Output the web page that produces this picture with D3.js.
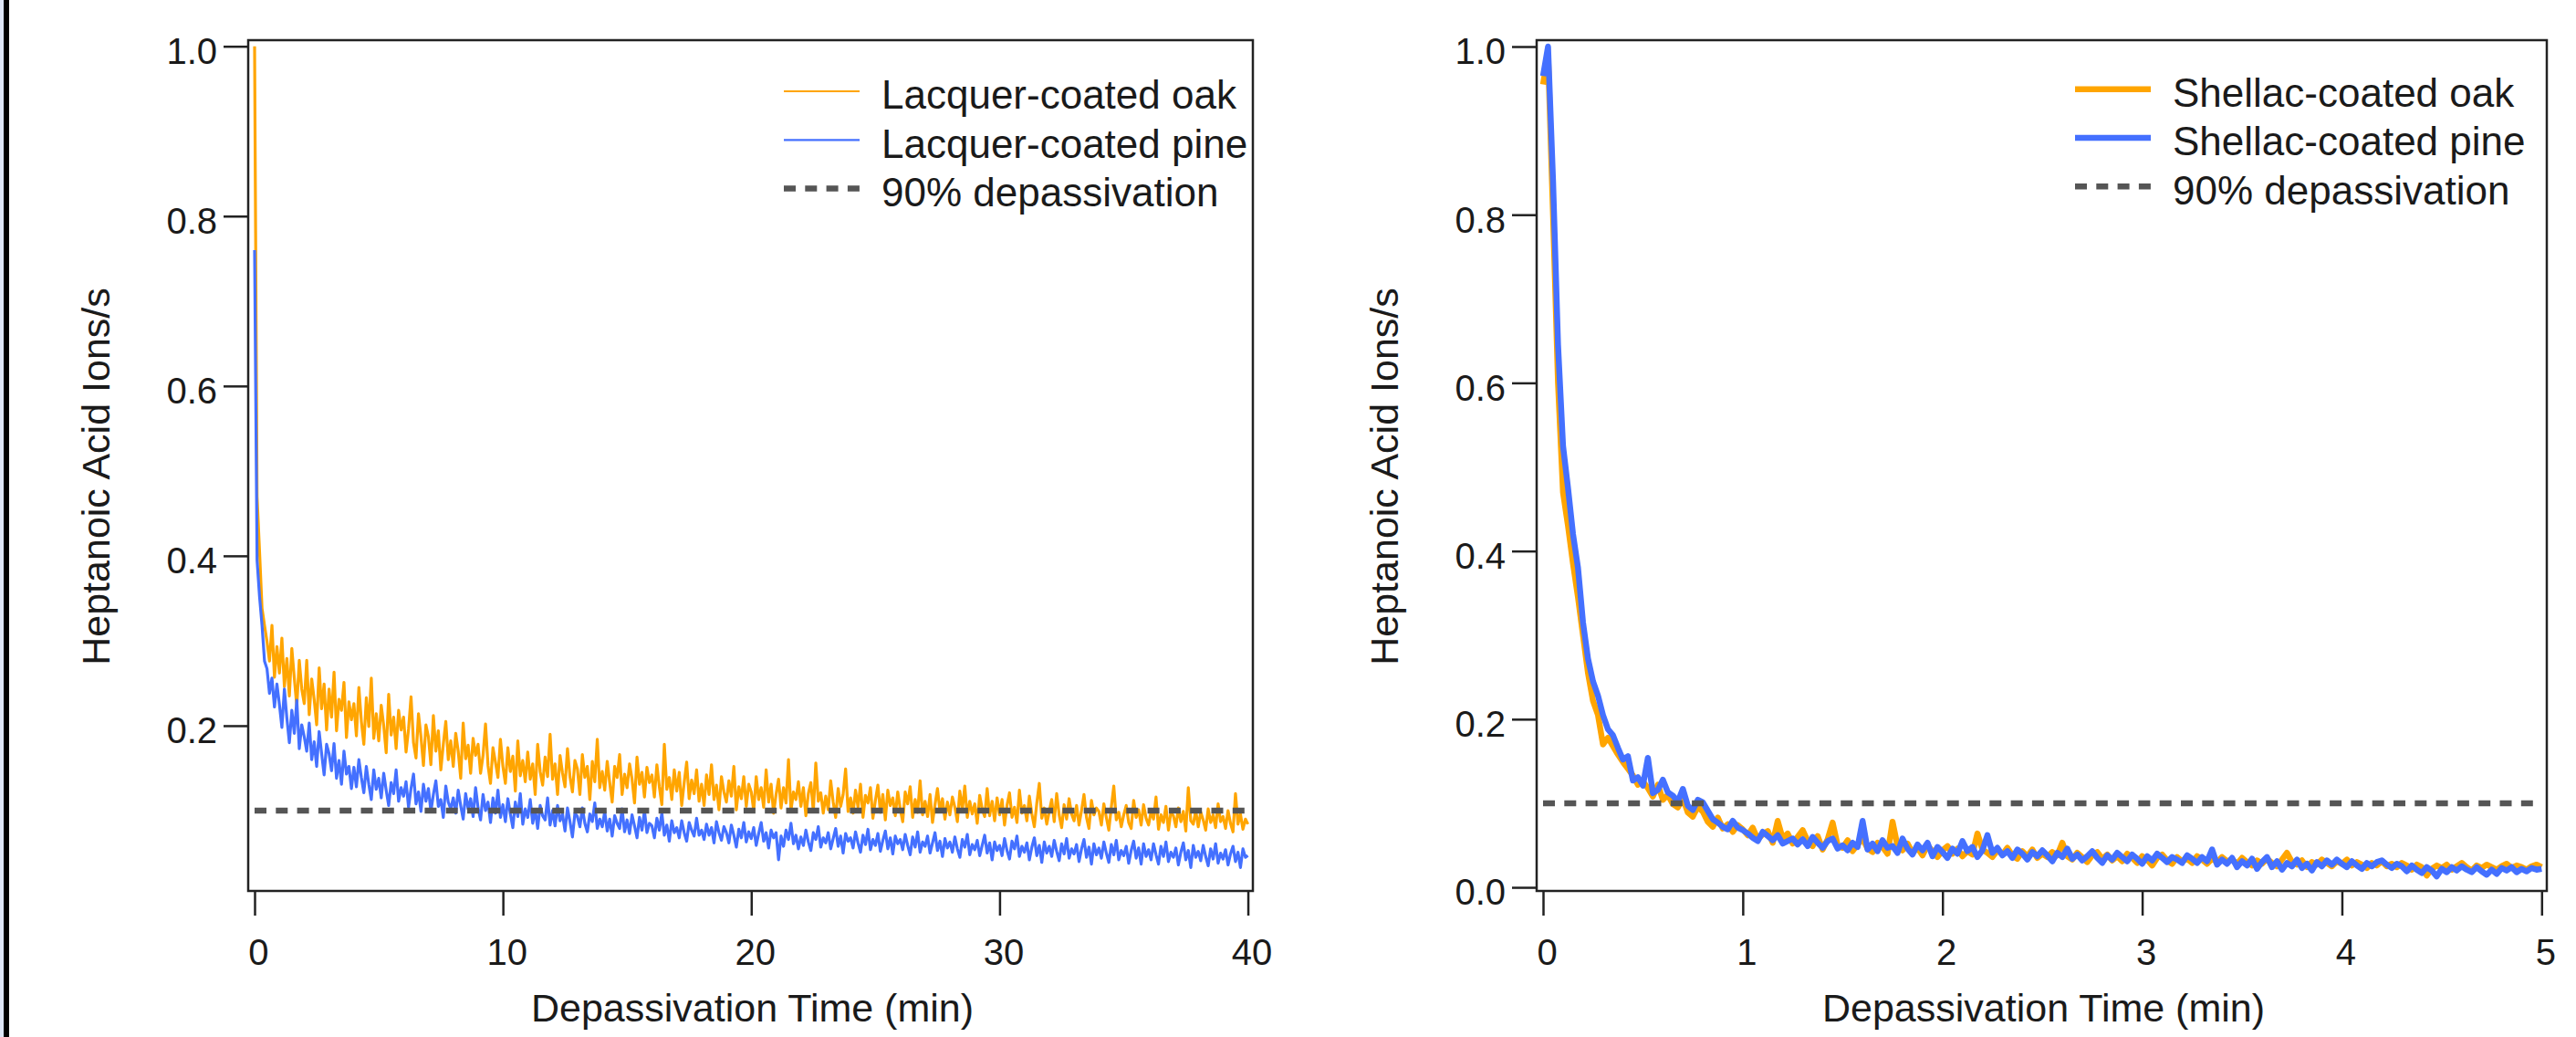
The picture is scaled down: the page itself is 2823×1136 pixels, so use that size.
<!DOCTYPE html>
<html lang="en">
<head>
<meta charset="UTF-8">
<title>Heptanoic acid depassivation</title>
<script src="https://cdn.jsdelivr.net/npm/d3@7"></script>
<style>
    html, body { margin: 0; padding: 0; background: #fff; }
    svg { display: block; }
    text { font-family: "Liberation Sans", Arial, sans-serif; }
</style>
</head>
<body>
<div id="chart"></div>
<script>
// lacquer run: one reading every 0.1 min, 0 to 40 min
var lacquerStep = 0.1;
var lacquerOak = [
    1.000, 0.470, 0.405, 0.338, 0.318, 0.299, 0.276, 0.318, 0.257, 0.293,
    0.262, 0.303, 0.246, 0.279, 0.235, 0.291, 0.256, 0.223, 0.277, 0.243,
    0.226, 0.277, 0.213, 0.255, 0.231, 0.201, 0.268, 0.220, 0.249, 0.195,
    0.243, 0.210, 0.263, 0.194, 0.231, 0.218, 0.251, 0.186, 0.228, 0.207,
    0.226, 0.188, 0.245, 0.205, 0.178, 0.233, 0.199, 0.256, 0.185, 0.214,
    0.182, 0.224, 0.200, 0.168, 0.237, 0.189, 0.210, 0.173, 0.218, 0.195,
    0.210, 0.169, 0.196, 0.234, 0.180, 0.162, 0.214, 0.187, 0.153, 0.201,
    0.187, 0.154, 0.212, 0.170, 0.194, 0.148, 0.178, 0.205, 0.160, 0.182,
    0.152, 0.191, 0.170, 0.138, 0.203, 0.161, 0.177, 0.144, 0.185, 0.165,
    0.178, 0.144, 0.165, 0.202, 0.153, 0.132, 0.174, 0.157, 0.139, 0.184,
    0.152, 0.132, 0.174, 0.146, 0.164, 0.123, 0.182, 0.141, 0.159, 0.134,
    0.169, 0.137, 0.155, 0.119, 0.178, 0.146, 0.130, 0.163, 0.140, 0.190,
    0.137, 0.155, 0.119, 0.165, 0.144, 0.128, 0.173, 0.140, 0.122, 0.159,
    0.149, 0.119, 0.166, 0.139, 0.152, 0.113, 0.158, 0.134, 0.184, 0.127,
    0.146, 0.124, 0.158, 0.133, 0.110, 0.152, 0.139, 0.166, 0.119, 0.143,
    0.127, 0.155, 0.137, 0.109, 0.163, 0.131, 0.145, 0.116, 0.151, 0.133,
    0.142, 0.116, 0.154, 0.128, 0.107, 0.178, 0.125, 0.139, 0.113, 0.148,
    0.123, 0.145, 0.106, 0.133, 0.157, 0.114, 0.136, 0.120, 0.148, 0.111,
    0.131, 0.106, 0.142, 0.119, 0.154, 0.113, 0.130, 0.101, 0.140, 0.122,
    0.110, 0.135, 0.117, 0.152, 0.101, 0.128, 0.114, 0.140, 0.105, 0.131,
    0.122, 0.100, 0.140, 0.113, 0.127, 0.104, 0.148, 0.110, 0.131, 0.097,
    0.119, 0.137, 0.103, 0.127, 0.109, 0.160, 0.100, 0.122, 0.113, 0.134,
    0.105, 0.127, 0.094, 0.120, 0.133, 0.099, 0.156, 0.111, 0.121, 0.097,
    0.117, 0.101, 0.135, 0.110, 0.092, 0.126, 0.105, 0.119, 0.149, 0.099,
    0.115, 0.097, 0.124, 0.104, 0.131, 0.092, 0.118, 0.109, 0.127, 0.091,
    0.112, 0.130, 0.098, 0.119, 0.089, 0.124, 0.106, 0.115, 0.094, 0.122,
    0.102, 0.087, 0.122, 0.108, 0.128, 0.092, 0.113, 0.098, 0.135, 0.095,
    0.111, 0.093, 0.119, 0.086, 0.107, 0.126, 0.099, 0.114, 0.090, 0.110,
    0.095, 0.116, 0.104, 0.087, 0.123, 0.101, 0.129, 0.092, 0.111, 0.096,
    0.108, 0.085, 0.118, 0.102, 0.093, 0.126, 0.094, 0.111, 0.088, 0.115,
    0.095, 0.113, 0.083, 0.106, 0.121, 0.092, 0.104, 0.086, 0.124, 0.097,
    0.106, 0.088, 0.117, 0.096, 0.081, 0.109, 0.132, 0.091, 0.103, 0.084,
    0.099, 0.113, 0.087, 0.120, 0.095, 0.080, 0.107, 0.090, 0.114, 0.096,
    0.088, 0.106, 0.083, 0.100, 0.119, 0.092, 0.079, 0.112, 0.095, 0.103,
    0.099, 0.083, 0.108, 0.092, 0.077, 0.104, 0.129, 0.089, 0.098, 0.081,
    0.095, 0.106, 0.086, 0.079, 0.112, 0.092, 0.101, 0.083, 0.107, 0.091,
    0.083, 0.099, 0.090, 0.116, 0.078, 0.095, 0.086, 0.105, 0.077, 0.098,
    0.094, 0.081, 0.103, 0.087, 0.099, 0.076, 0.127, 0.088, 0.084, 0.100,
    0.081, 0.098, 0.089, 0.077, 0.102, 0.086, 0.095, 0.080, 0.108, 0.087,
    0.093, 0.079, 0.100, 0.085, 0.075, 0.120, 0.084, 0.096, 0.078, 0.090,
    0.084
];
var lacquerPine = [
    0.760, 0.395, 0.352, 0.318, 0.276, 0.267, 0.238, 0.256, 0.222, 0.249,
    0.225, 0.198, 0.243, 0.209, 0.180, 0.218, 0.191, 0.230, 0.173, 0.201,
    0.187, 0.170, 0.203, 0.160, 0.181, 0.152, 0.193, 0.167, 0.142, 0.178,
    0.167, 0.147, 0.179, 0.138, 0.159, 0.131, 0.170, 0.143, 0.152, 0.126,
    0.151, 0.128, 0.160, 0.139, 0.121, 0.152, 0.131, 0.113, 0.148, 0.125,
    0.138, 0.115, 0.144, 0.124, 0.106, 0.133, 0.120, 0.148, 0.111, 0.127,
    0.117, 0.134, 0.104, 0.126, 0.143, 0.108, 0.122, 0.099, 0.131, 0.111,
    0.126, 0.099, 0.119, 0.135, 0.105, 0.113, 0.092, 0.129, 0.110, 0.102,
    0.115, 0.097, 0.124, 0.106, 0.090, 0.120, 0.102, 0.114, 0.093, 0.127,
    0.103, 0.089, 0.119, 0.100, 0.110, 0.086, 0.115, 0.097, 0.124, 0.092,
    0.107, 0.087, 0.114, 0.096, 0.080, 0.110, 0.093, 0.120, 0.084, 0.102,
    0.092, 0.113, 0.085, 0.101, 0.079, 0.106, 0.094, 0.089, 0.115, 0.083,
    0.100, 0.082, 0.106, 0.088, 0.096, 0.076, 0.103, 0.087, 0.069, 0.097,
    0.093, 0.081, 0.103, 0.085, 0.075, 0.096, 0.087, 0.109, 0.079, 0.090,
    0.081, 0.099, 0.076, 0.090, 0.070, 0.094, 0.085, 0.079, 0.102, 0.075,
    0.089, 0.073, 0.095, 0.082, 0.068, 0.092, 0.077, 0.100, 0.074, 0.085,
    0.082, 0.068, 0.091, 0.077, 0.097, 0.071, 0.083, 0.064, 0.088, 0.074,
    0.080, 0.068, 0.088, 0.074, 0.064, 0.086, 0.077, 0.070, 0.091, 0.071,
    0.077, 0.066, 0.084, 0.071, 0.080, 0.062, 0.087, 0.074, 0.065, 0.081,
    0.074, 0.062, 0.083, 0.071, 0.057, 0.078, 0.068, 0.086, 0.063, 0.075,
    0.067, 0.080, 0.059, 0.073, 0.086, 0.064, 0.074, 0.056, 0.077, 0.068,
    0.074, 0.042, 0.070, 0.058, 0.077, 0.066, 0.085, 0.061, 0.071, 0.055,
    0.069, 0.059, 0.077, 0.063, 0.053, 0.074, 0.066, 0.081, 0.057, 0.068,
    0.062, 0.074, 0.055, 0.067, 0.079, 0.058, 0.070, 0.050, 0.073, 0.064,
    0.068, 0.056, 0.075, 0.062, 0.051, 0.071, 0.060, 0.078, 0.054, 0.066,
    0.059, 0.073, 0.052, 0.065, 0.076, 0.055, 0.068, 0.049, 0.070, 0.061,
    0.066, 0.054, 0.072, 0.059, 0.048, 0.069, 0.057, 0.075, 0.051, 0.063,
    0.058, 0.070, 0.050, 0.062, 0.074, 0.053, 0.064, 0.046, 0.067, 0.056,
    0.063, 0.051, 0.069, 0.055, 0.045, 0.066, 0.057, 0.072, 0.048, 0.060,
    0.054, 0.065, 0.047, 0.059, 0.071, 0.050, 0.062, 0.042, 0.063, 0.053,
    0.059, 0.047, 0.067, 0.053, 0.043, 0.064, 0.055, 0.070, 0.046, 0.058,
    0.051, 0.062, 0.042, 0.057, 0.068, 0.047, 0.059, 0.039, 0.063, 0.050,
    0.058, 0.046, 0.065, 0.052, 0.041, 0.061, 0.049, 0.067, 0.044, 0.055,
    0.049, 0.060, 0.040, 0.055, 0.066, 0.045, 0.057, 0.037, 0.061, 0.048,
    0.056, 0.044, 0.063, 0.050, 0.039, 0.060, 0.048, 0.065, 0.042, 0.053,
    0.047, 0.058, 0.038, 0.053, 0.064, 0.044, 0.056, 0.037, 0.061, 0.046,
    0.054, 0.042, 0.061, 0.048, 0.037, 0.058, 0.046, 0.063, 0.040, 0.051,
    0.045, 0.056, 0.036, 0.051, 0.062, 0.042, 0.053, 0.033, 0.059, 0.045,
    0.052, 0.041, 0.059, 0.046, 0.035, 0.055, 0.043, 0.061, 0.038, 0.050,
    0.043, 0.054, 0.036, 0.049, 0.058, 0.040, 0.051, 0.033, 0.055, 0.045,
    0.047
];

// shellac run: one reading every 0.025 min, 0 to 5 min
var shellacStep = 0.025;
var shellacOak = [
    0.955, 0.990, 0.800, 0.600, 0.470, 0.430, 0.385, 0.345, 0.300, 0.255,
    0.222, 0.205, 0.170, 0.178, 0.168, 0.158, 0.149, 0.141, 0.133, 0.122,
    0.126, 0.118, 0.108, 0.122, 0.104, 0.110, 0.099, 0.095, 0.106, 0.089,
    0.084, 0.096, 0.090, 0.078, 0.072, 0.083, 0.070, 0.075, 0.066, 0.074,
    0.069, 0.062, 0.071, 0.057, 0.063, 0.067, 0.053, 0.079, 0.058, 0.064,
    0.052, 0.060, 0.068, 0.055, 0.049, 0.061, 0.045, 0.057, 0.077, 0.050,
    0.047, 0.056, 0.043, 0.051, 0.058, 0.046, 0.042, 0.053, 0.048, 0.040,
    0.078, 0.049, 0.044, 0.052, 0.041, 0.047, 0.038, 0.050, 0.043, 0.036,
    0.044, 0.049, 0.040, 0.046, 0.037, 0.043, 0.039, 0.064, 0.045, 0.041,
    0.036, 0.044, 0.039, 0.047, 0.038, 0.034, 0.043, 0.037, 0.045, 0.035,
    0.040, 0.036, 0.042, 0.038, 0.053, 0.037, 0.033, 0.041, 0.036, 0.030,
    0.038, 0.042, 0.034, 0.039, 0.032, 0.037, 0.031, 0.040, 0.035, 0.029,
    0.037, 0.033, 0.026, 0.035, 0.039, 0.032, 0.028, 0.036, 0.031, 0.034,
    0.029, 0.037, 0.033, 0.028, 0.034, 0.030, 0.036, 0.031, 0.033, 0.028,
    0.035, 0.030, 0.026, 0.032, 0.028, 0.034, 0.029, 0.025, 0.033, 0.041,
    0.030, 0.027, 0.032, 0.024, 0.030, 0.027, 0.033, 0.029, 0.025, 0.031,
    0.028, 0.033, 0.026, 0.030, 0.027, 0.023, 0.029, 0.026, 0.031, 0.025,
    0.028, 0.024, 0.029, 0.026, 0.021, 0.027, 0.024, 0.014, 0.022, 0.026,
    0.023, 0.027, 0.021, 0.025, 0.029, 0.024, 0.020, 0.026, 0.023, 0.027,
    0.024, 0.021, 0.025, 0.028, 0.023, 0.026, 0.024, 0.021, 0.025, 0.027,
    0.024
];
var shellacPine = [
    0.965, 1.000, 0.840, 0.645, 0.525, 0.475, 0.420, 0.380, 0.315, 0.272,
    0.245, 0.228, 0.205, 0.188, 0.181, 0.166, 0.152, 0.156, 0.127, 0.131,
    0.121, 0.154, 0.112, 0.116, 0.128, 0.113, 0.109, 0.102, 0.117, 0.097,
    0.092, 0.104, 0.101, 0.091, 0.081, 0.077, 0.072, 0.069, 0.079, 0.071,
    0.068, 0.064, 0.059, 0.055, 0.066, 0.061, 0.056, 0.062, 0.052, 0.055,
    0.058, 0.051, 0.057, 0.049, 0.060, 0.053, 0.047, 0.055, 0.058, 0.046,
    0.050, 0.044, 0.053, 0.048, 0.079, 0.045, 0.052, 0.043, 0.056, 0.047,
    0.049, 0.041, 0.058, 0.046, 0.039, 0.051, 0.044, 0.053, 0.037, 0.048,
    0.042, 0.035, 0.046, 0.040, 0.055, 0.043, 0.048, 0.036, 0.044, 0.062,
    0.041, 0.047, 0.038, 0.043, 0.035, 0.045, 0.040, 0.033, 0.042, 0.037,
    0.044, 0.038, 0.031, 0.041, 0.036, 0.046, 0.034, 0.039, 0.032, 0.037,
    0.043, 0.035, 0.029, 0.038, 0.033, 0.041, 0.036, 0.031, 0.039, 0.034,
    0.028, 0.037, 0.032, 0.040, 0.035, 0.030, 0.036, 0.033, 0.029, 0.038,
    0.034, 0.029, 0.036, 0.031, 0.045, 0.027, 0.033, 0.028, 0.035, 0.024,
    0.031, 0.026, 0.034, 0.022, 0.030, 0.036, 0.024, 0.031, 0.021, 0.029,
    0.025, 0.033, 0.023, 0.028, 0.020, 0.030, 0.025, 0.032, 0.027, 0.033,
    0.028, 0.024, 0.031, 0.026, 0.022, 0.029, 0.025, 0.030, 0.032, 0.027,
    0.023, 0.028, 0.025, 0.019, 0.026, 0.021, 0.017, 0.024, 0.020, 0.013,
    0.022, 0.018, 0.024, 0.020, 0.025, 0.021, 0.018, 0.024, 0.019, 0.015,
    0.021, 0.016, 0.023, 0.020, 0.024, 0.018, 0.022, 0.019, 0.023, 0.021,
    0.022
];

var lacquerXTicks = [0, 10, 20, 30, 40];
var shellacXTicks = [0, 1, 2, 3, 4, 5];
var lacquerYTicks = [0.2, 0.4, 0.6, 0.8, 1.0];
var shellacYTicks = [0.0, 0.2, 0.4, 0.6, 0.8, 1.0];
var lacquerNames = ["Lacquer-coated oak", "Lacquer-coated pine"];
var shellacNames = ["Shellac-coated oak", "Shellac-coated pine"];
var thresholdValue = 0.1;
var thresholdName = "90% depassivation";
var xTitle = "Depassivation Time (min)";
var yTitle = "Heptanoic Acid Ions/s";

var width = 2823;
var height = 1136;
var plotTop = 44, plotBottom = 976;
var orange = "#ffa500";
var blue = "#4470ff";
var grey = "#555555";
var ink = "#1a1a1a";

var svg = d3.select("#chart")
    .append("svg")
    .attr("width", width)
    .attr("height", height);

svg.append("rect").attr("width", width).attr("height", height).attr("fill", "#fff");
// page edge at far left
svg.append("rect").attr("x", 0).attr("width", 4).attr("height", height).attr("fill", "#dde5f5");
svg.append("rect").attr("x", 4).attr("width", 6).attr("height", height).attr("fill", "#000");

function drawPanel(p) {
    var x = d3.scaleLinear().domain(p.xDomain).range([p.left, p.right]);
    var y = d3.scaleLinear().domain(p.yDomain).range([plotBottom, plotTop]);
    var g = svg.append("g");

    var line = d3.line()
        .x(function (d, i) { return x(i * p.step); })
        .y(function (d) { return y(d); });

    [p.oak, p.pine].forEach(function (s, k) {
        g.append("path")
            .datum(s)
            .attr("d", line)
            .attr("fill", "none")
            .attr("stroke", k ? blue : orange)
            .attr("stroke-width", p.lw)
            .attr("stroke-linejoin", "round");
    });

    // 90% line
    g.append("line")
        .attr("x1", x(p.xTicks[0]))
        .attr("x2", x(p.xTicks[p.xTicks.length - 1]))
        .attr("y1", y(thresholdValue))
        .attr("y2", y(thresholdValue))
        .attr("stroke", grey)
        .attr("stroke-width", 6.5)
        .attr("stroke-dasharray", "13,10.3");

    g.append("rect")
        .attr("x", p.left)
        .attr("y", plotTop)
        .attr("width", p.right - p.left)
        .attr("height", plotBottom - plotTop)
        .attr("fill", "none")
        .attr("stroke", "#222")
        .attr("stroke-width", 2.5);

    var yAxis = d3.axisLeft(y)
        .tickValues(p.yTicks)
        .tickFormat(d3.format(".1f"))
        .tickSize(27)
        .tickPadding(7);
    var ya = g.append("g")
        .attr("transform", "translate(" + p.left + ",0)")
        .call(yAxis);

    var xAxis = d3.axisBottom(x)
        .tickValues(p.xTicks)
        .tickFormat(d3.format("d"))
        .tickSize(27)
        .tickPadding(26);
    var xa = g.append("g")
        .attr("transform", "translate(0," + plotBottom + ")")
        .call(xAxis);

    [ya, xa].forEach(function (a) {
        a.select(".domain").remove();
        a.attr("font-size", 40)
            .attr("font-family", "'Liberation Sans', Arial, sans-serif")
            .attr("color", ink);
        a.selectAll(".tick line").attr("stroke-width", 2.5).attr("stroke", "#222");
    });
    ya.selectAll(".tick text").attr("dy", "0.47em");
    xa.selectAll(".tick text").attr("dx", 4);

    g.append("text")
        .attr("x", (p.left + p.right) / 2 + 2)
        .attr("y", 1119)
        .attr("text-anchor", "middle")
        .attr("font-size", 43)
        .attr("fill", ink)
        .text(xTitle);

    g.append("text")
        .attr("transform", "translate(" + p.yTitleX + ",522) rotate(-90)")
        .attr("text-anchor", "middle")
        .attr("font-size", 43)
        .attr("fill", ink)
        .text(yTitle);

    // legend
    var items = [
        { name: p.names[0], color: orange, dash: null, w: p.legLw },
        { name: p.names[1], color: blue, dash: null, w: p.legLw },
        { name: thresholdName, color: grey, dash: "13,10.3", w: 6.5 }
    ];
    items.forEach(function (it, k) {
        var ly = p.legY + k * 53.3;
        g.append("line")
            .attr("x1", p.legX)
            .attr("x2", p.legX + 83)
            .attr("y1", ly)
            .attr("y2", ly)
            .attr("stroke", it.color)
            .attr("stroke-width", it.w)
            .attr("stroke-dasharray", it.dash);
        g.append("text")
            .attr("x", p.legX + 107)
            .attr("y", ly + 19.3)
            .attr("font-size", 44)
            .attr("fill", ink)
            .text(it.name);
    });
}

drawPanel({
    left: 272, right: 1373,
    xDomain: [-0.257, 40.2], yDomain: [0.0054, 1.0072],
    step: lacquerStep, oak: lacquerOak, pine: lacquerPine,
    xTicks: lacquerXTicks, yTicks: lacquerYTicks,
    names: lacquerNames, lw: 3.2, legLw: 2.2,
    legX: 859, legY: 100, yTitleX: 120
});

drawPanel({
    left: 1684, right: 2791,
    xDomain: [-0.032, 5.026], yDomain: [-0.0043, 1.0076],
    step: shellacStep, oak: shellacOak, pine: shellacPine,
    xTicks: shellacXTicks, yTicks: shellacYTicks,
    names: shellacNames, lw: 6.5, legLw: 6.5,
    legX: 2274, legY: 97.7, yTitleX: 1532
});
</script>
</body>
</html>
